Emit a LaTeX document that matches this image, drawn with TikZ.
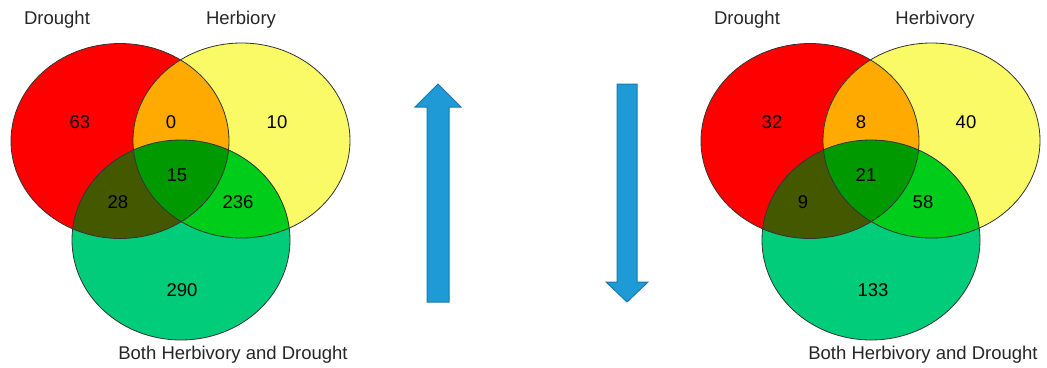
\documentclass[tikz,border=0pt]{standalone}
\usepackage{fontspec}
\setmainfont{Liberation Sans}
\definecolor{vred}{HTML}{FF0000}
\definecolor{vyellow}{HTML}{FAFA66}
\definecolor{vorange}{HTML}{FFAA00}
\definecolor{vgreen}{HTML}{00CC7A}
\definecolor{volive}{HTML}{445800}
\definecolor{vdark}{HTML}{009A00}
\definecolor{vbright}{HTML}{00CC1A}
\definecolor{arrowblue}{HTML}{1E9AD6}
\definecolor{arrowedge}{HTML}{1A7AAE}
\tikzset{
  lbl/.style={font=\fontsize{18.5}{22}\selectfont, text=black!85, inner sep=0pt},
  num/.style={font=\fontsize{18.5}{22}\selectfont, text=black, inner sep=0pt},
  outline/.style={draw=black!80, line width=0.8pt},
  blockarrow/.style={fill=arrowblue, draw=arrowedge, line width=1pt, line join=miter},
}
\newcommand\redE{(120,141) ellipse [x radius=109pt, y radius=97.5pt]}
\newcommand\yelE{(241.5,140.5) ellipse [x radius=108.5pt, y radius=97.5pt]}
\newcommand\grnE{(181,240) ellipse [x radius=109pt, y radius=100pt]}
\newcommand\vennregions{%
  \fill[vred] \redE;
  \fill[vyellow] \yelE;
  \begin{scope}\clip \redE; \fill[vorange] \yelE; \end{scope}
  \fill[vgreen] \grnE;
  \begin{scope}\clip \grnE; \fill[volive] \redE; \end{scope}
  \begin{scope}\clip \grnE; \fill[vbright] \yelE; \end{scope}
  \begin{scope}\clip \grnE; \clip \redE; \fill[vdark] \yelE; \end{scope}
  \draw[outline] \redE;
  \draw[outline] \yelE;
  \draw[outline] \grnE;
}
\begin{document}
\begin{tikzpicture}[x=1pt,y=-1pt]
\useasboundingbox (0,0) rectangle (1047,367);
% left diagram
\begin{scope}
  \vennregions
\end{scope}
\node[lbl] (Ldrought) at (57,20) {Drought};
\node[lbl] (Lherb) at (241,20) {Herbiory};
\node[lbl] (Lboth) at (233,355) {Both Herbivory and Drought};
\node[num] (La) at (80,122) {63};
\node[num] (Lb) at (171,122) {0};
\node[num] (Lc) at (277,122) {10};
\node[num] (Ld) at (177,175) {15};
\node[num] (Le) at (118,202) {28};
\node[num] (Lf) at (238,202) {236};
\node[num] (Lg) at (182,290) {290};
% right diagram
\begin{scope}[xshift=690pt]
  \vennregions
\end{scope}
\node[lbl] (Rdrought) at (747,20) {Drought};
\node[lbl] (Rherb) at (935,20) {Herbivory};
\node[lbl] (Rboth) at (923,355) {Both Herbivory and Drought};
\node[num] (Ra) at (772,122) {32};
\node[num] (Rb) at (861,122) {8};
\node[num] (Rc) at (966,122) {40};
\node[num] (Rd) at (866,175) {21};
\node[num] (Re) at (803,202) {9};
\node[num] (Rf) at (923,202) {58};
\node[num] (Rg) at (873,290) {133};
% block arrows
\draw[blockarrow] (427,302) -- (427,107) -- (415,107) -- (438,84) -- (461,107) -- (449,107) -- (449,302) -- cycle;
\draw[blockarrow] (617,84) -- (637,84) -- (637,282) -- (648,282) -- (627,302) -- (606,282) -- (617,282) -- cycle;
\end{tikzpicture}
\end{document}
